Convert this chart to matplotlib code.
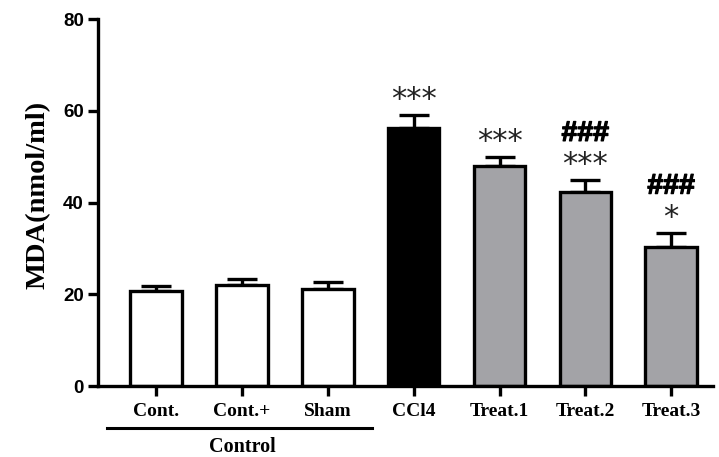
import matplotlib
matplotlib.use("Agg")
import matplotlib.pyplot as plt
import matplotlib.patheffects as pe
import numpy as np

categories = ["Cont.", "Cont.+", "Sham", "CCl4", "Treat.1", "Treat.2", "Treat.3"]
means = [20.8, 22.0, 21.1, 56.2, 48.0, 42.3, 30.3]
errors = [1.1, 1.3, 1.6, 2.9, 1.9, 2.6, 3.1]
colors = ["white", "white", "white", "black", "#a3a3a7", "#a3a3a7", "#a3a3a7"]
stars = ["", "", "", "***", "***", "***", "*"]
hashes = ["", "", "", "", "", "###", "###"]
yticks = [0, 20, 40, 60, 80]

fig = plt.figure(figsize=(7.19, 4.57), dpi=100)
ax = fig.add_axes([0.136, 0.155, 0.856, 0.803])
x = np.arange(len(categories))
lw = 2.4
ax.bar(x, means, width=0.6, color=colors, edgecolor="black", linewidth=lw, zorder=2)
ax.errorbar(x, means, yerr=[np.zeros(len(x)), errors], fmt="none", ecolor="black",
            elinewidth=lw, capsize=10.5, capthick=lw, zorder=1)

ax.set_xlim(-0.68, 6.49)
ax.set_ylim(0, 80)
ax.set_yticks(yticks)
ax.set_xticks(x)
ax.set_xticklabels(categories, fontfamily="Liberation Serif", fontweight="bold", fontsize=14)
for lab in ax.get_yticklabels():
    lab.set_fontfamily("Liberation Sans")
    lab.set_fontweight("bold")
    lab.set_fontsize(13.5)
ax.tick_params(axis="both", width=lw, length=7, pad=3)
ax.tick_params(axis="x", pad=5)
for s in ["top", "right"]:
    ax.spines[s].set_visible(False)
for s in ["left", "bottom"]:
    ax.spines[s].set_linewidth(lw)
ax.set_ylabel("MDA(nmol/ml)", fontfamily="Liberation Serif", fontweight="bold", fontsize=20.5)
ax.yaxis.set_label_coords(-0.076, 0.52)

for i in range(len(x)):
    top = means[i] + errors[i]
    if stars[i]:
        ax.text(x[i], top + 0.3, stars[i], ha="center", va="bottom", fontsize=22,
                fontfamily="DejaVu Sans", color="#222222")
    if hashes[i]:
        ax.text(x[i], top + 10.1, hashes[i], ha="center", va="center", fontsize=20.5,
                fontfamily="Liberation Sans", fontweight="bold",
                path_effects=[pe.withStroke(linewidth=0.9, foreground="black")])

# Control group bracket
fig.add_artist(plt.Line2D([107/719, 372/719], [1-428/457, 1-428/457], color="black", lw=2.2))
fig.text(242/719, 1-447/457, "Control", ha="center", va="center",
         fontfamily="Liberation Serif", fontweight="bold", fontsize=14.5)

fig.savefig("out.png", dpi=100)
